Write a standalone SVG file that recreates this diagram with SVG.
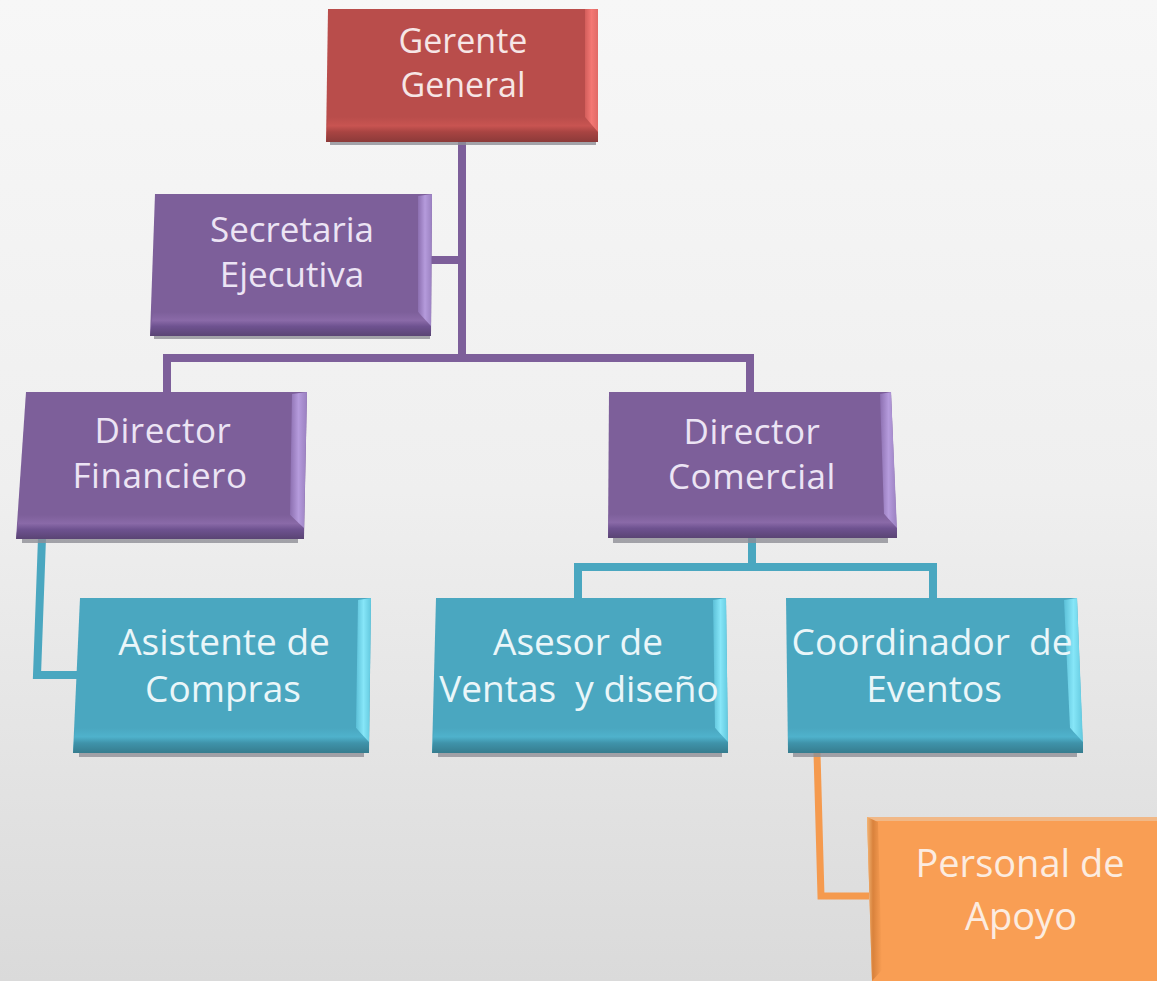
<svg xmlns="http://www.w3.org/2000/svg" width="1157" height="981" viewBox="0 0 1157 981">
<style>
.lbl{font-family:"Open Sans","Liberation Sans",sans-serif;font-size:37px;text-anchor:middle;white-space:pre}
.dir{font-size:35px;letter-spacing:0.5px}
.pu .lbl{fill:#ece4f4}
.rd .lbl{fill:#f6e6e6}
.tl .lbl{fill:#eaf6f9}
.or .lbl{fill:#fcece0}
.shadow{fill:#8e8e96;opacity:.8}
.pu .body{fill:#7d5f9a}
.rd .body{fill:#b94d4b}
.tl .body{fill:#4aa7c0}
.or .body{fill:#f99e54}
.pu .rb{fill:url(#puR)}
.rd .rb{fill:url(#rdR)}
.tl .rb{fill:url(#tlR)}
.pu .bb{fill:url(#puB)}
.rd .bb{fill:url(#rdB)}
.tl .bb{fill:url(#tlB)}
.conn{fill:none;stroke-width:8;stroke-linejoin:miter}
.cp{stroke:#7d5f9a}
.ct{stroke:#4aa7c0}
.co{stroke:#f59a4e;stroke-width:7}
</style>
<defs>
<linearGradient id="bg" x1="0" y1="0" x2="0" y2="1">
<stop offset="0" stop-color="#f7f7f7"/><stop offset="0.5" stop-color="#efefef"/><stop offset="1" stop-color="#dadada"/>
</linearGradient>
<linearGradient id="puR" x1="0" y1="0" x2="1" y2="0"><stop offset="0" stop-color="#8c6fb0"/><stop offset="0.5" stop-color="#b59bdc"/><stop offset="1" stop-color="#9a80c0"/></linearGradient>
<linearGradient id="rdR" x1="0" y1="0" x2="1" y2="0"><stop offset="0" stop-color="#d35e5b"/><stop offset="0.5" stop-color="#f47874"/><stop offset="1" stop-color="#e06a66"/></linearGradient>
<linearGradient id="tlR" x1="0" y1="0" x2="1" y2="0"><stop offset="0" stop-color="#5cc0d8"/><stop offset="0.5" stop-color="#86e6f8"/><stop offset="1" stop-color="#62c8de"/></linearGradient>
<linearGradient id="puB" x1="0" y1="0" x2="0" y2="1"><stop offset="0" stop-color="#7d5f9a"/><stop offset="0.35" stop-color="#8a6aa8"/><stop offset="0.6" stop-color="#6e5290"/><stop offset="1" stop-color="#5a4474"/></linearGradient>
<linearGradient id="rdB" x1="0" y1="0" x2="0" y2="1"><stop offset="0" stop-color="#b94d4b"/><stop offset="0.35" stop-color="#c85451"/><stop offset="0.6" stop-color="#a84442"/><stop offset="1" stop-color="#8c3a39"/></linearGradient>
<linearGradient id="tlB" x1="0" y1="0" x2="0" y2="1"><stop offset="0" stop-color="#4aa7c0"/><stop offset="0.35" stop-color="#4fb2cc"/><stop offset="0.6" stop-color="#3f93aa"/><stop offset="1" stop-color="#367c8e"/></linearGradient>
<linearGradient id="orL" x1="0" y1="0" x2="1" y2="0"><stop offset="0" stop-color="#f3b574"/><stop offset="0.4" stop-color="#d9823c"/><stop offset="1" stop-color="#f99e54"/></linearGradient>
</defs>
<rect x="0" y="0" width="1157" height="981" fill="url(#bg)"/>

<g id="connectors">
<path class="conn cp" d="M462,140 V358"/>
<path class="conn cp" d="M430,260 H462"/>
<path class="conn cp" d="M167,392 V358 H750 V394"/>
<path class="conn ct" d="M752,538 V567"/>
<path class="conn ct" d="M578,600 V567 H933 V600"/>
<path class="conn ct" d="M42,538 L37,675 H79"/>
<path class="conn co" d="M817,753 L821,896 H869"/>
</g>

<g id="gerente" class="rd">
<rect class="shadow" x="330" y="141" width="266" height="4"/>
<polygon class="body" points="328,9 598,9 598,142 326,142"/>
<polygon class="rb" points="585,9 598,9 598,135 585,118"/>
<polygon class="bb" points="328,117 585,117 598,132 598,142 326,142"/>
<text class="lbl" x="463" y="53" style="font-size:34px">Gerente</text>
<text class="lbl" x="463" y="97" style="font-size:34px">General</text>
</g>

<g id="secretaria" class="pu">
<rect class="shadow" x="154" y="335" width="276" height="4"/>
<polygon class="body" points="155,194 432,194 431,336 150,336"/>
<polygon class="rb" points="418,196 432,194 431,330 418,312"/>
<polygon class="bb" points="153,312 418,312 431,326 431,336 150,336"/>
<text class="lbl" x="292" y="242" style="font-size:35px">Secretaria</text>
<text class="lbl" x="292" y="287" style="font-size:35px">Ejecutiva</text>
</g>

<g id="dir-financiero" class="pu">
<rect class="shadow" x="22" y="538" width="276" height="5"/>
<polygon class="body" points="26,392 307,392 304,539 16,539"/>
<polygon class="rb" points="292,394 307,392 304,530 290,515"/>
<polygon class="bb" points="19,515 290,515 304,528 304,539 16,539"/>
<text class="lbl dir" x="163" y="443">Director</text>
<text class="lbl dir" x="160" y="488">Financiero</text>
</g>

<g id="dir-comercial" class="pu">
<rect class="shadow" x="613" y="538" width="275" height="5"/>
<polygon class="body" points="609,392 891,392 897,538 608,538"/>
<polygon class="rb" points="880,394 891,392 897,530 884,514"/>
<polygon class="bb" points="609,514 884,514 897,528 897,538 608,538"/>
<text class="lbl dir" x="752" y="444">Director</text>
<text class="lbl dir" x="752" y="489">Comercial</text>
</g>

<g id="asistente" class="tl">
<rect class="shadow" x="79" y="752" width="285" height="5"/>
<polygon class="body" points="80,598 371,598 369,753 73,753"/>
<polygon class="rb" points="358,600 371,598 369,744 356,728"/>
<polygon class="bb" points="75,728 356,728 369,742 369,753 73,753"/>
<text class="lbl" x="224" y="655">Asistente de</text>
<text class="lbl" x="223" y="702">Compras</text>
</g>

<g id="asesor" class="tl">
<rect class="shadow" x="438" y="752" width="284" height="5"/>
<polygon class="body" points="436,598 726,598 728,753 432,753"/>
<polygon class="rb" points="713,600 726,598 728,744 715,728"/>
<polygon class="bb" points="434,728 715,728 728,742 728,753 432,753"/>
<text class="lbl" x="578" y="655">Asesor de</text>
<text class="lbl" x="579" y="702">Ventas  y diseño</text>
</g>

<g id="coordinador" class="tl">
<rect class="shadow" x="793" y="752" width="284" height="5"/>
<polygon class="body" points="786,598 1077,598 1083,753 788,753"/>
<polygon class="rb" points="1064,600 1077,598 1083,744 1070,728"/>
<polygon class="bb" points="788,728 1070,728 1083,742 1083,753 788,753"/>
<text class="lbl" x="932" y="655">Coordinador  de</text>
<text class="lbl" x="934" y="702">Eventos</text>
</g>

<g id="personal" class="or">
<polygon class="body" points="867,817 1157,817 1157,981 872,981"/>
<polygon points="867,817 1157,817 1157,821 868,821" fill="#f1b887"/>
<polygon points="867,817 878,822 882,970 872,981" fill="url(#orL)"/>
<text class="lbl" x="1020" y="877" style="font-size:38px">Personal de</text>
<text class="lbl" x="1021" y="930" style="font-size:38px">Apoyo</text>
</g>
</svg>
